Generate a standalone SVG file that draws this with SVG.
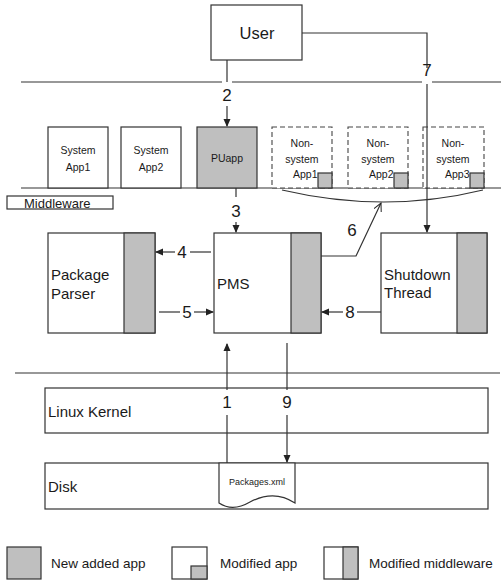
<svg xmlns="http://www.w3.org/2000/svg" width="501" height="580" viewBox="0 0 501 580">
<style>
text{font-family:"Liberation Sans",Arial,sans-serif;fill:#1a1a1a}
.b{fill:#fff;stroke:#333;stroke-width:1.2}
.g{fill:#bfbfbf;stroke:#333;stroke-width:1.2}
.d{fill:#fff;stroke:#444;stroke-width:1.1;stroke-dasharray:5,3}
.l{fill:none;stroke:#333;stroke-width:1.2}
.s{font-size:10.5px;text-anchor:middle}
.e{font-size:10.5px;text-anchor:end}
.n{font-size:17px;text-anchor:middle}
.m{font-size:15px}
.lg{font-size:13.5px}
</style>
<defs>
<marker id="a" markerWidth="8" markerHeight="8" refX="7" refY="4" orient="auto" markerUnits="userSpaceOnUse">
<path d="M0,0.5 L8,4 L0,7.5 Z" fill="#222"/>
</marker>
<marker id="o" markerWidth="10" markerHeight="10" refX="8" refY="5" orient="auto" markerUnits="userSpaceOnUse">
<path d="M0,1 L8,5 L0,9" fill="none" stroke="#222" stroke-width="1"/>
</marker>
</defs>
<g id="layers">
<line class="l" x1="21" y1="82" x2="222" y2="82"/>
<line class="l" x1="232" y1="82" x2="422" y2="82"/>
<line class="l" x1="432" y1="82" x2="501" y2="82"/>
<line class="l" x1="21" y1="188" x2="501" y2="188"/>
<line class="l" x1="15" y1="373" x2="500" y2="373"/>
</g>
<g id="user"><rect class="b" x="211" y="5" width="91" height="55"/><text x="257" y="39" font-size="16.5" text-anchor="middle">User</text></g>
<g id="sysapp1"><rect class="b" x="48" y="127" width="60" height="61"/><text class="s" x="78" y="154">System</text><text class="s" x="78" y="171">App1</text></g>
<g id="sysapp2"><rect class="b" x="121" y="127" width="60" height="61"/><text class="s" x="151" y="154">System</text><text class="s" x="151" y="171">App2</text></g>
<g id="puapp"><rect class="g" x="197" y="127" width="60" height="61"/><text class="s" x="227" y="162">PUapp</text></g>
<g id="nonsys1"><rect class="d" x="272" y="127" width="60" height="61"/><text class="s" x="302" y="147">Non-</text><text class="s" x="302" y="163">system</text><text class="e" x="317.5" y="178">App1</text><rect class="g" x="318" y="173" width="14" height="15"/></g>
<g id="nonsys2"><rect class="d" x="348" y="127" width="60" height="61"/><text class="s" x="378" y="147">Non-</text><text class="s" x="378" y="163">system</text><text class="e" x="393.5" y="178">App2</text><rect class="g" x="394" y="173" width="14" height="15"/></g>
<g id="nonsys3"><rect class="d" x="423" y="127" width="61" height="61"/><text class="s" x="453" y="147">Non-</text><text class="s" x="453" y="163">system</text><text class="e" x="469.5" y="178">App3</text><rect class="g" x="470" y="173" width="14" height="15"/></g>
<g id="middleware"><rect class="b" x="7" y="196" width="106" height="13"/><text x="24" y="208" font-size="13">Middleware</text></g>
<g id="parser"><rect class="b" x="48" y="233" width="107" height="100"/><rect class="g" x="124" y="233" width="31" height="100"/><text class="m" x="51" y="280">Package</text><text class="m" x="51" y="299">Parser</text></g>
<g id="pms"><rect class="b" x="214" y="233" width="107" height="100"/><rect class="g" x="291" y="233" width="30" height="100"/><text class="m" x="217" y="289">PMS</text></g>
<g id="shutdown"><rect class="b" x="381" y="233" width="106" height="100"/><rect class="g" x="457" y="233" width="30" height="100"/><text class="m" x="384" y="280">Shutdown</text><text class="m" x="384" y="298">Thread</text></g>
<g id="kernel"><rect class="b" x="45" y="388" width="443" height="45"/><text class="m" x="48" y="417">Linux Kernel</text></g>
<g id="disk"><rect class="b" x="45" y="463" width="443" height="46"/><text class="m" x="48" y="492">Disk</text></g>
<g id="packages"><path class="b" d="M219,463 H295 V503 C280,493 265,494 250,502 C238,509 228,509 219,503 Z"/><text x="257" y="485" font-size="9" text-anchor="middle">Packages.xml</text></g>
<g id="connectors">
<path class="l" d="M227,60 V82"/>
<text class="n" x="227" y="101">2</text>
<path class="l" d="M227,106 V126" marker-end="url(#a)"/>
<path class="l" d="M302,33 H427 V68"/>
<text class="n" x="427" y="76">7</text>
<path class="l" d="M427,84 V232" marker-end="url(#a)"/>
<path class="l" d="M282,190 Q385,214 483,190"/>
<path class="l" d="M236,188 V197"/>
<text class="n" x="236" y="217">3</text>
<path class="l" d="M236,222 V232" marker-end="url(#a)"/>
<path class="l" d="M211,252 H190"/>
<text class="n" x="182" y="258">4</text>
<path class="l" d="M175,252 H156" marker-end="url(#a)"/>
<path class="l" d="M159,312 H180"/>
<text class="n" x="187" y="318">5</text>
<path class="l" d="M194,312 H213" marker-end="url(#a)"/>
<path class="l" d="M321,256 H356 L381,203" marker-end="url(#o)"/>
<text class="n" x="352" y="236">6</text>
<path class="l" d="M381,312 H357"/>
<text class="n" x="350" y="318">8</text>
<path class="l" d="M343,312 H322" marker-end="url(#a)"/>
<path class="l" d="M227,463 V415"/>
<text class="n" x="227" y="408">1</text>
<path class="l" d="M227,390 V344" marker-end="url(#a)"/>
<path class="l" d="M287,343 V390"/>
<text class="n" x="287" y="408">9</text>
<path class="l" d="M287,415 V462" marker-end="url(#a)"/>
</g>
<g id="legend">
<rect class="g" x="7" y="547" width="34" height="32"/>
<text class="lg" x="51" y="568">New added app</text>
<rect class="b" x="172" y="547" width="35" height="32"/>
<rect class="g" x="191" y="566" width="16" height="13"/>
<text class="lg" x="220" y="568">Modified app</text>
<rect class="b" x="324" y="547" width="34" height="32"/>
<rect class="g" x="343" y="547" width="15" height="32"/>
<text class="lg" x="369" y="568">Modified middleware</text>
</g>
</svg>
